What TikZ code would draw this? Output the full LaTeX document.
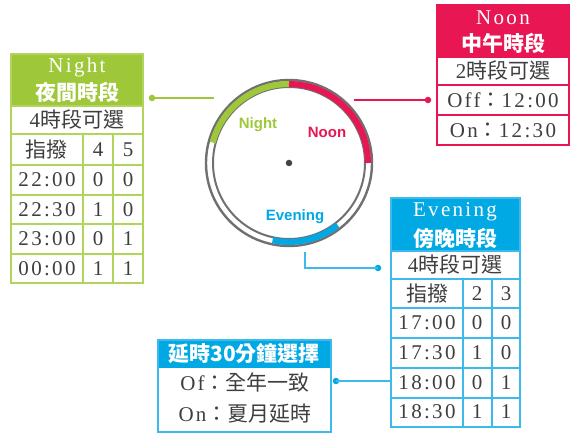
\documentclass[tikz,border=0pt]{standalone}
\usepackage{fontspec}
\setmainfont{Liberation Serif}
\newfontfamily\cjk{Noto Sans CJK TC}
\newfontfamily\lat{Liberation Serif}[LetterSpace=11]
\newfontfamily\ringfont{Liberation Sans}
\definecolor{nightgreen}{RGB}{158,200,58}
\definecolor{nightline}{RGB}{176,212,92}
\definecolor{noonred}{RGB}{232,22,82}
\definecolor{evblue}{RGB}{0,168,228}
\definecolor{evline}{RGB}{60,186,236}
\definecolor{ringgray}{RGB}{112,112,112}
\definecolor{celltext}{RGB}{62,62,62}
\tikzset{
  cell/.style={font=\fontsize{21}{24}\selectfont, text=celltext, inner sep=0pt},
  headtext/.style={font=\fontsize{21}{24}\selectfont\bfseries, text=white, inner sep=0pt},
  dot/.style={circle, fill, inner sep=0pt, minimum size=6.5pt},
  ringlabel/.style={font=\ringfont\bfseries\fontsize{15}{18}\selectfont, inner sep=0pt},
  grid/.style={line width=1.5pt}
}

\begin{document}
\begin{tikzpicture}[x=1pt, y=-1pt]
  \useasboundingbox (0,0) rectangle (571,435);

  \node[dot, fill=ringgray!60!black] (hub) at (289,163) {};
  \draw [ringgray, line width=2.4pt] (hub.center) circle[radius=83];
  \draw [ringgray, line width=2pt] (hub.center) circle[radius=76];
  \draw [nightgreen, line width=6pt] ([shift={(-165:79)}]hub.center) arc[start angle=-165, end angle=-90, radius=79];
  \draw [noonred, line width=6pt] ([shift={(-90:79)}]hub.center) arc[start angle=-90, end angle=0, radius=79];
  \draw [evblue, line width=6pt] ([shift={(102:79)}]hub.center) arc[start angle=102, end angle=52, radius=79];
  \node[ringlabel, text=nightgreen] (nightlbl) at (258,125) {Night};
  \node[ringlabel, text=noonred] (noonlbl) at (327,132) {Noon};
  \node[ringlabel, text=evblue] (evlbl) at (295,217) {Evening};

  \fill [nightgreen] (11,54) rectangle (143,106);
  \draw [nightline, grid] (11,54) rectangle (143,283);
  \foreach \y in {106,134,165,195,224,254} \draw [nightline, grid] (11,\y) -- (143,\y);
  \draw [nightline, grid] (83,134) -- (83,283);
  \draw [nightline, grid] (113,134) -- (113,283);
  \node[headtext] (nighttitle) at (77,67) {\lat\mdseries Night};
  \node[headtext] (nightsub) at (77,92) {\cjk 夜間時段};
  \node[cell] (nightopt) at (77,120) {{\lat 4}{\cjk 時段可選}};
  \node[cell] (nightsw) at (47,150) {\cjk 指撥};
  \node[cell] (nightb4) at (98,150) {\lat 4};
  \node[cell] (nightb5) at (128,150) {\lat 5};
  \foreach \y/\t/\a/\b [count=\i] in {180/22:00/0/0, 210/22:30/1/0, 239/23:00/0/1, 269/00:00/1/1} {
    \node[cell] (nt\i) at (47,\y) {\lat \t};
    \node[cell] (na\i) at (98,\y) {\lat \a};
    \node[cell] (nb\i) at (128,\y) {\lat \b};
  }

  \fill [noonred] (437,5) rectangle (569,57);
  \draw [noonred, grid] (437,5) rectangle (569,145);
  \foreach \y in {57,85,115} \draw [noonred, grid] (437,\y) -- (569,\y);
  \node[headtext] (noontitle) at (503,18) {\lat\mdseries Noon};
  \node[headtext] (noonsub) at (503,43) {\cjk 中午時段};
  \node[cell] (noonopt) at (503,71) {{\lat 2}{\cjk 時段可選}};
  \node[cell] (noonoff) at (503,100) {{\lat Off}{\cjk ：}{\lat 12:00}};
  \node[cell] (noonon) at (503,130) {{\lat On}{\cjk ：}{\lat 12:30}};

  \fill [evblue] (391,198) rectangle (520,251);
  \draw [evline, grid] (391,198) rectangle (520,427);
  \foreach \y in {251,279,308,338,368,398} \draw [evline, grid] (391,\y) -- (520,\y);
  \draw [evline, grid] (463,279) -- (463,427);
  \draw [evline, grid] (492,279) -- (492,427);
  \node[headtext] (evtitle) at (455,212) {\lat\mdseries Evening};
  \node[headtext] (evsub) at (455,238) {\cjk 傍晚時段};
  \node[cell] (evopt) at (455,265) {{\lat 4}{\cjk 時段可選}};
  \node[cell] (evsw) at (427,294) {\cjk 指撥};
  \node[cell] (evb2) at (477,294) {\lat 2};
  \node[cell] (evb3) at (506,294) {\lat 3};
  \foreach \y/\t/\a/\b [count=\i] in {323/17:00/0/0, 353/17:30/1/0, 383/18:00/0/1, 412/18:30/1/1} {
    \node[cell] (et\i) at (427,\y) {\lat \t};
    \node[cell] (ea\i) at (477,\y) {\lat \a};
    \node[cell] (eb\i) at (506,\y) {\lat \b};
  }

  \fill [evblue] (158,340) rectangle (331,368);
  \draw [evline, grid] (158,340) rectangle (331,432);
  \node[headtext] (delaytitle) at (244,354) {\cjk 延時30分鐘選擇};
  \node[cell] (delayoff) at (245,383) {{\lat Of}{\cjk ：全年一致}};
  \node[cell] (delayon) at (245,414) {{\lat On}{\cjk ：夏月延時}};

  \node[dot, fill=nightgreen] (nightdot) at (152,98) {};
  \coordinate (nightend) at (214,98);
  \draw [nightgreen, line width=1.2pt] (nightdot.center) -- (nightend);
  \node[dot, fill=noonred] (noondot) at (428,100) {};
  \coordinate (noonend) at (354,100);
  \draw [noonred, line width=1.2pt] (noonend) -- (noondot.center);
  \node[dot, fill=evblue] (evdot) at (378,268) {};
  \coordinate (evend) at (305,252);
  \draw [evline, line width=1.2pt] (evend) |- (evdot.center);
  \node[dot, fill=evblue] (delaydot) at (336,381) {};
  \coordinate (evrow) at (391,381);
  \draw [evline, line width=1.2pt] (delaydot.center) -- (evrow);
\end{tikzpicture}
\end{document}
